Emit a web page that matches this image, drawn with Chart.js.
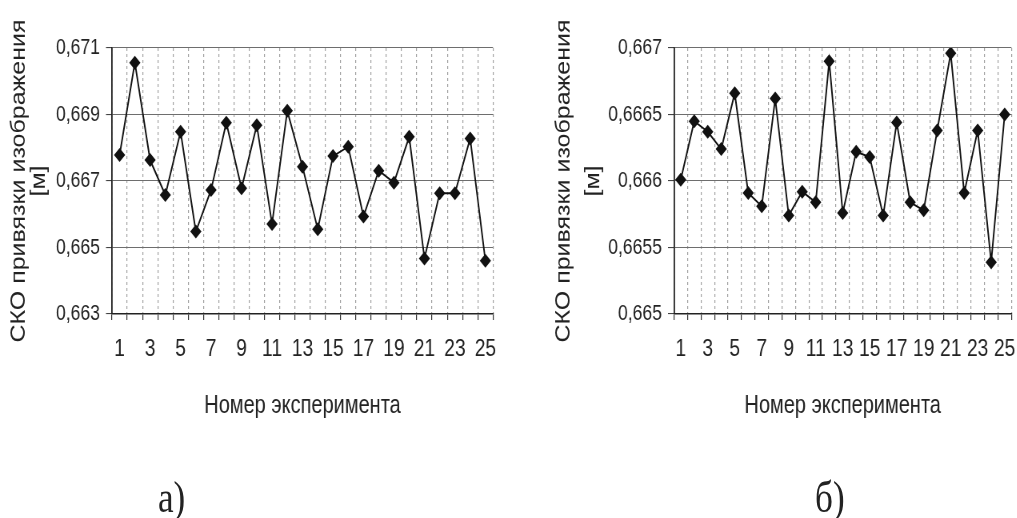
<!DOCTYPE html>
<html>
<head>
<meta charset="utf-8">
<title>СКО привязки изображения</title>
<script src="https://cdn.jsdelivr.net/npm/chart.js@4.4.1/dist/chart.umd.min.js"></script>
<style>
  html, body { margin: 0; padding: 0; background: #fff; overflow: hidden; }
  /* the scan is horizontally squeezed, so the whole page is drawn wider and narrowed */
  #page { position: absolute; left: 0; top: 0; width: 1271.25px; height: 518px;
          transform: scaleX(0.8); transform-origin: 0 0; }
  .box { position: absolute; top: 0; height: 430px; }
  #boxA { left: 0; width: 631.25px; }
  #boxB { left: 675px; width: 596.25px; }
  .caption { position: absolute; top: 476px; font-size: 44px; line-height: 44px;
             font-family: "Liberation Serif", "DejaVu Serif", serif; color: #222; }
</style>
</head>
<body>
<div id="page">
  <div class="box" id="boxA"><canvas id="chartA"></canvas></div>
  <div class="box" id="boxB"><canvas id="chartB"></canvas></div>
  <div class="caption" style="left:197.5px">а)</div>
  <div class="caption" style="left:1018.75px">б)</div>
</div>
<script>
// Data
const experiments = ['1', '2', '3', '4', '5', '6', '7', '8', '9', '10', '11', '12', '13',
                     '14', '15', '16', '17', '18', '19', '20', '21', '22', '23', '24', '25'];

const skoA = [0.66778, 0.67056, 0.66763, 0.66658, 0.66848, 0.66548, 0.66673, 0.66875, 0.66678,
              0.66868, 0.66571, 0.66911, 0.66743, 0.66555, 0.66775, 0.66803, 0.66593, 0.66731,
              0.66695, 0.66833, 0.66467, 0.66663, 0.66663, 0.66828, 0.66460];

const skoB = [0.66601, 0.66645, 0.66637, 0.66624, 0.66666, 0.66591, 0.66581, 0.66662, 0.66574,
              0.66592, 0.66584, 0.66690, 0.66576, 0.66622, 0.66618, 0.66574, 0.66644, 0.66584,
              0.66578, 0.66638, 0.66696, 0.66591, 0.66638, 0.66539, 0.66650];

const yTicksA = [0.663, 0.665, 0.667, 0.669, 0.671];
const yTicksB = [0.665, 0.6655, 0.666, 0.6665, 0.667];

const xTitle = 'Номер эксперимента';
const yTitle = ['СКО привязки изображения', '[м]'];

const FONT = '"Liberation Sans", Arial, sans-serif';

function fmt(v) {
    // 0.6655 -> "0,6655", 0.667 -> "0,667"
    return String(Math.round(v * 10000) / 10000).replace('.', ',');
}

function drawChart(id, values, yTicks, axisWidth, padRight, titleLine) {
    new Chart(document.getElementById(id), {
        type: 'line',
        data: {
            labels: experiments,
            datasets: [{
                data: values,
                borderColor: '#111',
                borderWidth: 1.9,
                tension: 0,
                pointStyle: 'rectRot',
                pointRadius: 7,
                pointBackgroundColor: '#111',
                pointBorderColor: '#111',
                pointBorderWidth: 0
            }]
        },
        options: {
            responsive: true,
            maintainAspectRatio: false,
            animation: false,
            layout: { padding: { top: 48, right: padRight, left: 0, bottom: 0 } },
            plugins: { legend: { display: false }, tooltip: { enabled: false } },
            scales: {
                x: {
                    offset: true,
                    grid: { offset: true, color: '#a0a0a0', lineWidth: 1.2, tickLength: 6, tickColor: '#333' },
                    border: { color: '#222', width: 1.6, dash: [3, 3] },
                    ticks: {
                        autoSkip: false,
                        maxRotation: 0,
                        padding: 15,
                        color: '#222',
                        font: { family: FONT, size: 24 },
                        callback: (v, i) => (i % 2 === 0 ? experiments[i] : '')
                    },
                    title: {
                        display: true,
                        text: xTitle,
                        color: '#222',
                        font: { family: FONT, size: 25 },
                        padding: { top: 0, bottom: 9 }
                    },
                    afterFit: a => { a.height = 116; a.paddingLeft = 0; a.paddingRight = 0; }
                },
                y: {
                    min: yTicks[0],
                    max: yTicks[yTicks.length - 1],
                    afterBuildTicks: a => { a.ticks = yTicks.map(v => ({ value: v })); },
                    grid: { color: '#6e6e6e', lineWidth: 1.1, tickLength: 7.5, tickColor: '#444' },
                    border: { color: '#222', width: 1.8 },
                    ticks: {
                        padding: 7.5,
                        color: '#222',
                        font: { family: FONT, size: 22 },
                        callback: v => fmt(v)
                    },
                    title: {
                        display: true,
                        text: yTitle,
                        color: '#222',
                        font: { family: FONT, size: 25, lineHeight: titleLine / 25 },
                        padding: { top: 11.25, bottom: 0 }
                    },
                    afterFit: a => { a.width = axisWidth; a.paddingTop = 0; a.paddingBottom = 0; }
                }
            }
        }
    });
}

drawChart('chartA', skoA, yTicksA, 140, 15, 25);
drawChart('chartB', skoB, yTicksB, 167.5, 2.5, 37.5);
</script>
</body>
</html>
